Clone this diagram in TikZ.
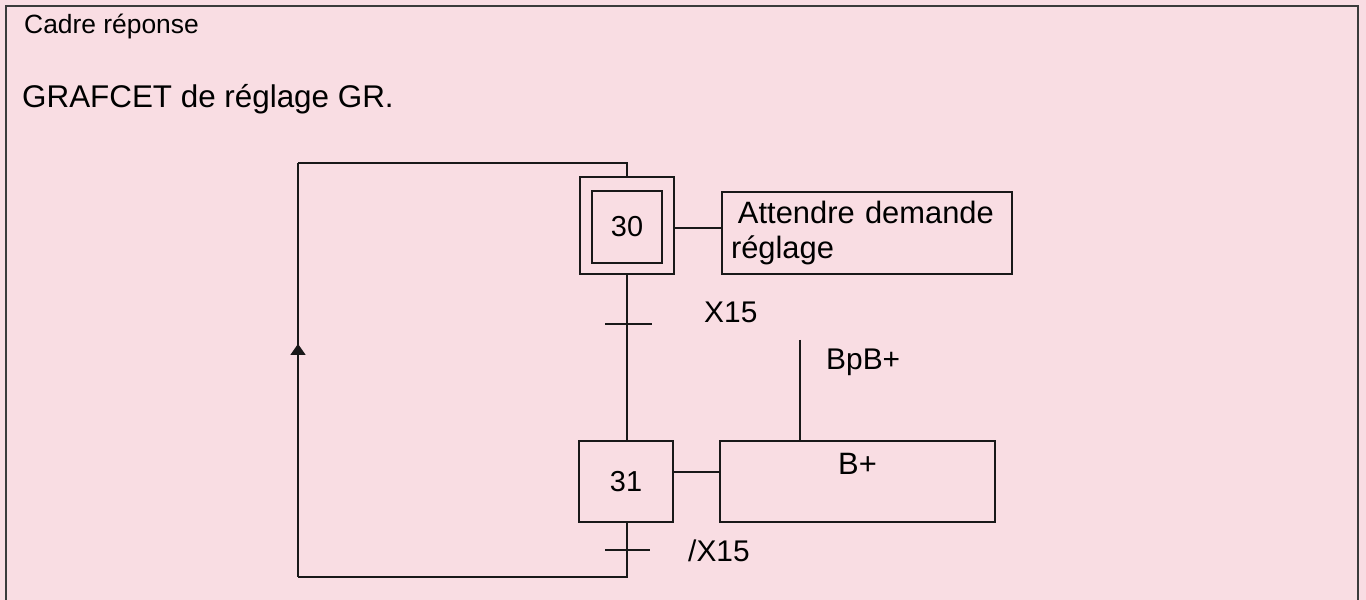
\documentclass[tikz,border=0pt]{standalone}
\usepackage{fontspec}
\setmainfont{Liberation Sans}
\usepackage{xcolor}
\usetikzlibrary{arrows.meta, positioning, fit, decorations.markings}
\definecolor{cadrebg}{RGB}{249,221,227}
\definecolor{trait}{RGB}{25,25,25}

\begin{document}
\begin{tikzpicture}[
    x=1bp, y=1bp,
    etape/.style={rectangle, draw=trait, line width=1.5bp, inner sep=0pt, font=\fontsize{29}{34}\selectfont},
    action/.style={rectangle, draw=trait, line width=1.5bp, font=\fontsize{31}{35}\selectfont},
    lien/.style={draw=trait, line width=1.5bp},
    recept/.style={anchor=base west, inner sep=0pt, font=\fontsize{30}{34}\selectfont},
    retour/.style={lien, postaction={decorate}, decoration={markings, mark=at position 0.563 with {\arrow{Triangle[width=15bp, length=11bp]}}}}
]
    \fill[cadrebg] (0,0) rectangle (1366,600);
    \useasboundingbox (0,0) rectangle (1366,600);
    \draw[trait!85, line width=1.5bp] (6,0) -- (6,594) -- (1358,594) -- (1358,0);

    \node[anchor=base west, inner sep=0pt, font=\fontsize{26.5}{30}\selectfont] (cadre) at (24,566) {Cadre réponse};
    \node[anchor=base west, inner sep=0pt, font=\fontsize{31.5}{36}\selectfont] (titre) at (22,492) {GRAFCET de réglage GR.};

    \node[etape, minimum width=94bp, minimum height=97bp] (e30x) at (627,374.5) {};
    \node[etape, minimum width=70bp, minimum height=72bp] (e30) at (627,373) {30};
    \node[action, minimum height=82bp, text width=272bp, align=left, inner xsep=9bp] (a30) at (867,367) {\hspace*{7pt}Attendre demande\\réglage};

    \node[etape, minimum width=94bp, minimum height=81bp] (e31) at (626,118.5) {31};
    \node[action, minimum width=275bp, minimum height=81bp, inner sep=0pt, text height=34bp, text depth=47bp] (a31) at (857.5,118.5) {B+};

    \coordinate (t1) at (627,276);
    \coordinate (t2) at (627,50);
    \coordinate (bpb) at (800,260);
    \coordinate (retbas) at (298,23);
    \coordinate (rethaut) at (298,437);

    \draw[lien] ([yshift=-2.5bp]e30x.east) -- ([yshift=-2.5bp]e30x.east -| a30.west);
    \draw[lien] ([yshift=9.5bp]e31.east) -- ([yshift=9.5bp]e31.east -| a31.west);
    \draw[lien] (e30x.south) -- (e30x.south |- e31.north);
    \draw[lien] ([xshift=-22bp]t1) -- ([xshift=25bp]t1);
    \node[recept] (r1) at (704,277) {X15};
    \draw[lien] (bpb) -- (bpb |- a31.north);
    \node[recept] (r3) at (826,230) {BpB+};
    \draw[lien] ([xshift=-22bp]t2) -- ([xshift=23bp]t2);
    \node[recept] (r2) at (688,38) {/X15};

    \draw[lien] (e30x.south |- e31.south) |- (retbas);
    \draw[retour] (retbas) -- (rethaut);
    \draw[lien] (rethaut) -| (e30x.north);
\end{tikzpicture}
\end{document}
